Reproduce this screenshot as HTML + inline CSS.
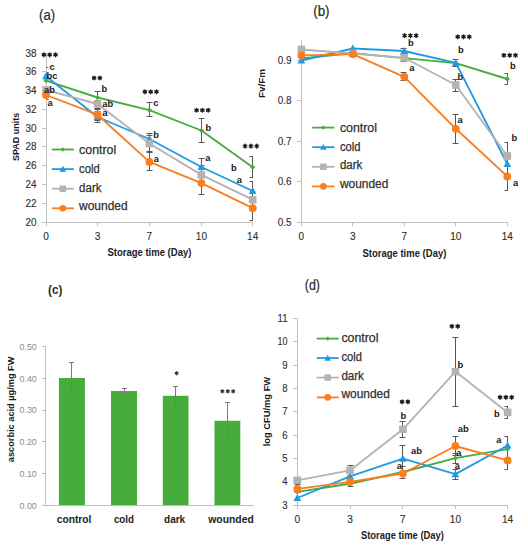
<!DOCTYPE html>
<html><head><meta charset="utf-8"><style>
html,body{margin:0;padding:0;background:#fff;}
svg{display:block;font-family:"Liberation Sans", sans-serif;}
</style></head><body>
<svg width="528" height="550" viewBox="0 0 528 550">
<rect width="528" height="550" fill="#fff"/>
<text x="39.1" y="19.6" font-size="14" text-anchor="start" font-weight="normal" fill="#2a2a2a" stroke="#2a2a2a" stroke-width="0.2" textLength="15.9" lengthAdjust="spacingAndGlyphs" >(a)</text>
<line x1="46.5" y1="53.0" x2="46.5" y2="223.0" stroke="#bfbfbf" stroke-width="1"/>
<line x1="42.0" y1="53.5" x2="46.5" y2="53.5" stroke="#bfbfbf" stroke-width="1"/>
<text x="36.5" y="56.5" font-size="10" text-anchor="end" font-weight="normal" fill="#303030" stroke="#303030" stroke-width="0.12" textLength="11" lengthAdjust="spacingAndGlyphs" >38</text>
<line x1="42.0" y1="71.5" x2="46.5" y2="71.5" stroke="#bfbfbf" stroke-width="1"/>
<text x="36.5" y="75.27777777777777" font-size="10" text-anchor="end" font-weight="normal" fill="#303030" stroke="#303030" stroke-width="0.12" textLength="11" lengthAdjust="spacingAndGlyphs" >36</text>
<line x1="42.0" y1="90.5" x2="46.5" y2="90.5" stroke="#bfbfbf" stroke-width="1"/>
<text x="36.5" y="94.05555555555556" font-size="10" text-anchor="end" font-weight="normal" fill="#303030" stroke="#303030" stroke-width="0.12" textLength="11" lengthAdjust="spacingAndGlyphs" >34</text>
<line x1="42.0" y1="109.5" x2="46.5" y2="109.5" stroke="#bfbfbf" stroke-width="1"/>
<text x="36.5" y="112.83333333333334" font-size="10" text-anchor="end" font-weight="normal" fill="#303030" stroke="#303030" stroke-width="0.12" textLength="11" lengthAdjust="spacingAndGlyphs" >32</text>
<line x1="42.0" y1="128.5" x2="46.5" y2="128.5" stroke="#bfbfbf" stroke-width="1"/>
<text x="36.5" y="131.61111111111111" font-size="10" text-anchor="end" font-weight="normal" fill="#303030" stroke="#303030" stroke-width="0.12" textLength="11" lengthAdjust="spacingAndGlyphs" >30</text>
<line x1="42.0" y1="146.5" x2="46.5" y2="146.5" stroke="#bfbfbf" stroke-width="1"/>
<text x="36.5" y="150.38888888888889" font-size="10" text-anchor="end" font-weight="normal" fill="#303030" stroke="#303030" stroke-width="0.12" textLength="11" lengthAdjust="spacingAndGlyphs" >28</text>
<line x1="42.0" y1="165.5" x2="46.5" y2="165.5" stroke="#bfbfbf" stroke-width="1"/>
<text x="36.5" y="169.16666666666669" font-size="10" text-anchor="end" font-weight="normal" fill="#303030" stroke="#303030" stroke-width="0.12" textLength="11" lengthAdjust="spacingAndGlyphs" >26</text>
<line x1="42.0" y1="184.5" x2="46.5" y2="184.5" stroke="#bfbfbf" stroke-width="1"/>
<text x="36.5" y="187.94444444444446" font-size="10" text-anchor="end" font-weight="normal" fill="#303030" stroke="#303030" stroke-width="0.12" textLength="11" lengthAdjust="spacingAndGlyphs" >24</text>
<line x1="42.0" y1="203.5" x2="46.5" y2="203.5" stroke="#bfbfbf" stroke-width="1"/>
<text x="36.5" y="206.72222222222223" font-size="10" text-anchor="end" font-weight="normal" fill="#303030" stroke="#303030" stroke-width="0.12" textLength="11" lengthAdjust="spacingAndGlyphs" >22</text>
<line x1="42.0" y1="222.5" x2="46.5" y2="222.5" stroke="#bfbfbf" stroke-width="1"/>
<text x="36.5" y="225.5" font-size="10" text-anchor="end" font-weight="normal" fill="#303030" stroke="#303030" stroke-width="0.12" textLength="11" lengthAdjust="spacingAndGlyphs" >20</text>
<line x1="46.0" y1="222.5" x2="253" y2="222.5" stroke="#bfbfbf" stroke-width="1"/>
<line x1="46.5" y1="222.5" x2="46.5" y2="226.0" stroke="#bfbfbf" stroke-width="1"/>
<text x="46" y="239.5" font-size="10" text-anchor="middle" font-weight="normal" fill="#303030" stroke="#303030" stroke-width="0.12" textLength="5.6" lengthAdjust="spacingAndGlyphs" >0</text>
<line x1="97.5" y1="222.5" x2="97.5" y2="226.0" stroke="#bfbfbf" stroke-width="1"/>
<text x="97.5" y="239.5" font-size="10" text-anchor="middle" font-weight="normal" fill="#303030" stroke="#303030" stroke-width="0.12" textLength="5.6" lengthAdjust="spacingAndGlyphs" >3</text>
<line x1="149.5" y1="222.5" x2="149.5" y2="226.0" stroke="#bfbfbf" stroke-width="1"/>
<text x="149.4" y="239.5" font-size="10" text-anchor="middle" font-weight="normal" fill="#303030" stroke="#303030" stroke-width="0.12" textLength="5.6" lengthAdjust="spacingAndGlyphs" >7</text>
<line x1="201.5" y1="222.5" x2="201.5" y2="226.0" stroke="#bfbfbf" stroke-width="1"/>
<text x="201.4" y="239.5" font-size="10" text-anchor="middle" font-weight="normal" fill="#303030" stroke="#303030" stroke-width="0.12" textLength="11.2" lengthAdjust="spacingAndGlyphs" >10</text>
<line x1="252.5" y1="222.5" x2="252.5" y2="226.0" stroke="#bfbfbf" stroke-width="1"/>
<text x="252.7" y="239.5" font-size="10" text-anchor="middle" font-weight="normal" fill="#303030" stroke="#303030" stroke-width="0.12" textLength="11.2" lengthAdjust="spacingAndGlyphs" >14</text>
<text x="149.4" y="256" font-size="10" text-anchor="middle" font-weight="bold" fill="#222" textLength="84" lengthAdjust="spacingAndGlyphs" >Storage time (Day)</text>
<text x="0" y="0" font-size="9.2" text-anchor="middle" font-weight="bold" fill="#1a1a1a" textLength="48" lengthAdjust="spacingAndGlyphs" transform="translate(18.6,136.9) rotate(-90)">SPAD units</text>
<line x1="46" y1="67.5" x2="48.5" y2="67.5" stroke="#777" stroke-width="1"/>
<line x1="46" y1="99.5" x2="48.5" y2="99.5" stroke="#777" stroke-width="1"/>
<line x1="97.5" y1="91.0" x2="97.5" y2="104.0" stroke="#585858" stroke-width="1"/>
<line x1="94.5" y1="91.5" x2="100.5" y2="91.5" stroke="#585858" stroke-width="1"/>
<line x1="94.5" y1="103.5" x2="100.5" y2="103.5" stroke="#585858" stroke-width="1"/>
<line x1="97.5" y1="100.0" x2="97.5" y2="109.0" stroke="#585858" stroke-width="1"/>
<line x1="94.5" y1="100.5" x2="100.5" y2="100.5" stroke="#585858" stroke-width="1"/>
<line x1="94.5" y1="108.5" x2="100.5" y2="108.5" stroke="#585858" stroke-width="1"/>
<line x1="97.5" y1="109.0" x2="97.5" y2="121.0" stroke="#585858" stroke-width="1"/>
<line x1="94.5" y1="109.5" x2="100.5" y2="109.5" stroke="#585858" stroke-width="1"/>
<line x1="94.5" y1="120.5" x2="100.5" y2="120.5" stroke="#585858" stroke-width="1"/>
<line x1="97.5" y1="111.0" x2="97.5" y2="123.0" stroke="#585858" stroke-width="1"/>
<line x1="94.5" y1="111.5" x2="100.5" y2="111.5" stroke="#585858" stroke-width="1"/>
<line x1="94.5" y1="122.5" x2="100.5" y2="122.5" stroke="#585858" stroke-width="1"/>
<line x1="149.5" y1="102.0" x2="149.5" y2="117.0" stroke="#585858" stroke-width="1"/>
<line x1="146.5" y1="102.5" x2="152.5" y2="102.5" stroke="#585858" stroke-width="1"/>
<line x1="146.5" y1="116.5" x2="152.5" y2="116.5" stroke="#585858" stroke-width="1"/>
<line x1="149.5" y1="133.0" x2="149.5" y2="146.0" stroke="#585858" stroke-width="1"/>
<line x1="146.5" y1="133.5" x2="152.5" y2="133.5" stroke="#585858" stroke-width="1"/>
<line x1="146.5" y1="145.5" x2="152.5" y2="145.5" stroke="#585858" stroke-width="1"/>
<line x1="149.5" y1="135.0" x2="149.5" y2="152.0" stroke="#585858" stroke-width="1"/>
<line x1="146.5" y1="135.5" x2="152.5" y2="135.5" stroke="#585858" stroke-width="1"/>
<line x1="146.5" y1="151.5" x2="152.5" y2="151.5" stroke="#585858" stroke-width="1"/>
<line x1="149.5" y1="152.0" x2="149.5" y2="171.0" stroke="#585858" stroke-width="1"/>
<line x1="146.5" y1="152.5" x2="152.5" y2="152.5" stroke="#585858" stroke-width="1"/>
<line x1="146.5" y1="170.5" x2="152.5" y2="170.5" stroke="#585858" stroke-width="1"/>
<line x1="201.5" y1="118.0" x2="201.5" y2="143.0" stroke="#585858" stroke-width="1"/>
<line x1="198.5" y1="118.5" x2="204.5" y2="118.5" stroke="#585858" stroke-width="1"/>
<line x1="198.5" y1="142.5" x2="204.5" y2="142.5" stroke="#585858" stroke-width="1"/>
<line x1="201.5" y1="158.0" x2="201.5" y2="176.0" stroke="#585858" stroke-width="1"/>
<line x1="198.5" y1="158.5" x2="204.5" y2="158.5" stroke="#585858" stroke-width="1"/>
<line x1="198.5" y1="175.5" x2="204.5" y2="175.5" stroke="#585858" stroke-width="1"/>
<line x1="201.5" y1="165.0" x2="201.5" y2="185.0" stroke="#585858" stroke-width="1"/>
<line x1="198.5" y1="165.5" x2="204.5" y2="165.5" stroke="#585858" stroke-width="1"/>
<line x1="198.5" y1="184.5" x2="204.5" y2="184.5" stroke="#585858" stroke-width="1"/>
<line x1="201.5" y1="172.0" x2="201.5" y2="195.0" stroke="#585858" stroke-width="1"/>
<line x1="198.5" y1="172.5" x2="204.5" y2="172.5" stroke="#585858" stroke-width="1"/>
<line x1="198.5" y1="194.5" x2="204.5" y2="194.5" stroke="#585858" stroke-width="1"/>
<line x1="252.5" y1="156.0" x2="252.5" y2="178.0" stroke="#585858" stroke-width="1"/>
<line x1="249.5" y1="156.5" x2="252.5" y2="156.5" stroke="#585858" stroke-width="1"/>
<line x1="249.5" y1="177.5" x2="252.5" y2="177.5" stroke="#585858" stroke-width="1"/>
<line x1="252.5" y1="181.0" x2="252.5" y2="201.0" stroke="#585858" stroke-width="1"/>
<line x1="249.5" y1="181.5" x2="252.5" y2="181.5" stroke="#585858" stroke-width="1"/>
<line x1="249.5" y1="200.5" x2="252.5" y2="200.5" stroke="#585858" stroke-width="1"/>
<line x1="252.5" y1="199.0" x2="252.5" y2="221.0" stroke="#585858" stroke-width="1"/>
<line x1="249.5" y1="199.5" x2="252.5" y2="199.5" stroke="#585858" stroke-width="1"/>
<line x1="249.5" y1="220.5" x2="252.5" y2="220.5" stroke="#585858" stroke-width="1"/>
<polyline points="46,80.6 97.5,97.5 149.4,110.1 201.4,130.5 252.7,167.2" fill="none" stroke="#47ac3c" stroke-width="1.85" stroke-linejoin="round"/>
<polygon points="46,78.0 48.6,80.6 46,83.19999999999999 43.4,80.6" fill="#47ac3c"/>
<polygon points="97.5,94.9 100.1,97.5 97.5,100.1 94.9,97.5" fill="#47ac3c"/>
<polygon points="149.4,107.5 152.0,110.1 149.4,112.69999999999999 146.8,110.1" fill="#47ac3c"/>
<polygon points="201.4,127.9 204.0,130.5 201.4,133.1 198.8,130.5" fill="#47ac3c"/>
<polygon points="252.7,164.6 255.29999999999998,167.2 252.7,169.79999999999998 250.1,167.2" fill="#47ac3c"/>
<polyline points="46,76.2 97.5,117 149.4,139 201.4,167 252.7,191" fill="none" stroke="#1f9be3" stroke-width="1.85" stroke-linejoin="round"/>
<polygon points="46,72.3 49.9,79.32000000000001 42.1,79.32000000000001" fill="#1f9be3"/>
<polygon points="97.5,113.1 101.4,120.12 93.6,120.12" fill="#1f9be3"/>
<polygon points="149.4,135.1 153.3,142.12 145.5,142.12" fill="#1f9be3"/>
<polygon points="201.4,163.1 205.3,170.12 197.5,170.12" fill="#1f9be3"/>
<polygon points="252.7,187.1 256.59999999999997,194.12 248.79999999999998,194.12" fill="#1f9be3"/>
<polyline points="46,90 97.5,104 149.4,143.5 201.4,174.9 252.7,199.7" fill="none" stroke="#b5b2b1" stroke-width="1.85" stroke-linejoin="round"/>
<rect x="42.2" y="86.2" width="7.6" height="7.6" fill="#b5b2b1"/>
<rect x="93.7" y="100.2" width="7.6" height="7.6" fill="#b5b2b1"/>
<rect x="145.6" y="139.7" width="7.6" height="7.6" fill="#b5b2b1"/>
<rect x="197.6" y="171.1" width="7.6" height="7.6" fill="#b5b2b1"/>
<rect x="248.89999999999998" y="195.89999999999998" width="7.6" height="7.6" fill="#b5b2b1"/>
<polyline points="46,95 97.5,114.7 149.4,161.9 201.4,183.1 252.7,208.2" fill="none" stroke="#fa7d1e" stroke-width="1.85" stroke-linejoin="round"/>
<circle cx="46" cy="95" r="3.9" fill="#fa7d1e"/>
<circle cx="97.5" cy="114.7" r="3.9" fill="#fa7d1e"/>
<circle cx="149.4" cy="161.9" r="3.9" fill="#fa7d1e"/>
<circle cx="201.4" cy="183.1" r="3.9" fill="#fa7d1e"/>
<circle cx="252.7" cy="208.2" r="3.9" fill="#fa7d1e"/>
<path d="M43.90,52.95L43.90,56.65M42.30,53.88L45.50,55.72M45.50,53.88L42.30,55.72M49.70,52.95L49.70,56.65M48.10,53.88L51.30,55.72M51.30,53.88L48.10,55.72M55.50,52.95L55.50,56.65M53.90,53.88L57.10,55.72M57.10,53.88L53.90,55.72" stroke="#1a1a1a" stroke-width="1.45" stroke-linecap="round" fill="none"/>
<path d="M94.10,76.15L94.10,79.85M92.50,77.08L95.70,78.92M95.70,77.08L92.50,78.92M99.90,76.15L99.90,79.85M98.30,77.08L101.50,78.92M101.50,77.08L98.30,78.92" stroke="#1a1a1a" stroke-width="1.45" stroke-linecap="round" fill="none"/>
<path d="M144.90,89.95L144.90,93.65M143.30,90.88L146.50,92.72M146.50,90.88L143.30,92.72M150.70,89.95L150.70,93.65M149.10,90.88L152.30,92.72M152.30,90.88L149.10,92.72M156.50,89.95L156.50,93.65M154.90,90.88L158.10,92.72M158.10,90.88L154.90,92.72" stroke="#1a1a1a" stroke-width="1.45" stroke-linecap="round" fill="none"/>
<path d="M196.60,108.35L196.60,112.05M195.00,109.28L198.20,111.12M198.20,109.28L195.00,111.12M202.40,108.35L202.40,112.05M200.80,109.28L204.00,111.12M204.00,109.28L200.80,111.12M208.20,108.35L208.20,112.05M206.60,109.28L209.80,111.12M209.80,109.28L206.60,111.12" stroke="#1a1a1a" stroke-width="1.45" stroke-linecap="round" fill="none"/>
<path d="M245.10,144.25L245.10,147.95M243.50,145.17L246.70,147.03M246.70,145.17L243.50,147.03M250.90,144.25L250.90,147.95M249.30,145.17L252.50,147.03M252.50,145.17L249.30,147.03M256.70,144.25L256.70,147.95M255.10,145.17L258.30,147.03M258.30,145.17L255.10,147.03" stroke="#1a1a1a" stroke-width="1.45" stroke-linecap="round" fill="none"/>
<text x="49.6" y="70.2" font-size="9" text-anchor="start" font-weight="bold" fill="#1a1a1a" textLength="5.21" lengthAdjust="spacingAndGlyphs" >c</text>
<text x="46.5" y="78.5" font-size="9" text-anchor="start" font-weight="bold" fill="#1a1a1a" textLength="10.92" lengthAdjust="spacingAndGlyphs" >bc</text>
<text x="44.0" y="92.9" font-size="9" text-anchor="start" font-weight="bold" fill="#1a1a1a" textLength="10.92" lengthAdjust="spacingAndGlyphs" >ab</text>
<text x="47.6" y="105.9" font-size="9" text-anchor="start" font-weight="bold" fill="#1a1a1a" textLength="5.21" lengthAdjust="spacingAndGlyphs" >a</text>
<text x="101.6" y="91.9" font-size="9" text-anchor="start" font-weight="bold" fill="#1a1a1a" textLength="5.72" lengthAdjust="spacingAndGlyphs" >b</text>
<text x="102.3" y="106.5" font-size="9" text-anchor="start" font-weight="bold" fill="#1a1a1a" textLength="10.92" lengthAdjust="spacingAndGlyphs" >ab</text>
<text x="102.3" y="115.9" font-size="9" text-anchor="start" font-weight="bold" fill="#1a1a1a" textLength="5.21" lengthAdjust="spacingAndGlyphs" >a</text>
<text x="153.29999999999998" y="105.7" font-size="9" text-anchor="start" font-weight="bold" fill="#1a1a1a" textLength="5.21" lengthAdjust="spacingAndGlyphs" >c</text>
<text x="153.29999999999998" y="138.3" font-size="9" text-anchor="start" font-weight="bold" fill="#1a1a1a" textLength="5.72" lengthAdjust="spacingAndGlyphs" >b</text>
<text x="153.7" y="161.5" font-size="9" text-anchor="start" font-weight="bold" fill="#1a1a1a" textLength="5.21" lengthAdjust="spacingAndGlyphs" >a</text>
<text x="205.6" y="130.9" font-size="9" text-anchor="start" font-weight="bold" fill="#1a1a1a" textLength="5.72" lengthAdjust="spacingAndGlyphs" >b</text>
<text x="205.2" y="161.4" font-size="9" text-anchor="start" font-weight="bold" fill="#1a1a1a" textLength="5.21" lengthAdjust="spacingAndGlyphs" >a</text>
<text x="231.1" y="170.6" font-size="9" text-anchor="start" font-weight="bold" fill="#1a1a1a" textLength="5.72" lengthAdjust="spacingAndGlyphs" >b</text>
<text x="236.79999999999998" y="183.4" font-size="9" text-anchor="start" font-weight="bold" fill="#1a1a1a" textLength="5.21" lengthAdjust="spacingAndGlyphs" >a</text>
<line x1="51.8" y1="149.5" x2="73.9" y2="149.5" stroke="#47ac3c" stroke-width="1.8"/>
<polygon points="62.85,147.29 65.06,149.5 62.85,151.71 60.64,149.5" fill="#47ac3c"/>
<text x="79.1" y="153.6" font-size="12" text-anchor="start" font-weight="normal" fill="#303030" stroke="#303030" stroke-width="0.25" textLength="37.1" lengthAdjust="spacingAndGlyphs" >control</text>
<line x1="51.8" y1="169.1" x2="73.9" y2="169.1" stroke="#1f9be3" stroke-width="1.8"/>
<polygon points="62.85,165.785 66.165,171.75199999999998 59.535000000000004,171.75199999999998" fill="#1f9be3"/>
<text x="79.1" y="172.8" font-size="12" text-anchor="start" font-weight="normal" fill="#303030" stroke="#303030" stroke-width="0.25" textLength="20.5" lengthAdjust="spacingAndGlyphs" >cold</text>
<line x1="51.8" y1="188.7" x2="73.9" y2="188.7" stroke="#b5b2b1" stroke-width="1.8"/>
<rect x="59.620000000000005" y="185.47" width="6.46" height="6.46" fill="#b5b2b1"/>
<text x="79.1" y="191.5" font-size="12" text-anchor="start" font-weight="normal" fill="#303030" stroke="#303030" stroke-width="0.25" textLength="22.5" lengthAdjust="spacingAndGlyphs" >dark</text>
<line x1="51.8" y1="208.3" x2="73.9" y2="208.3" stroke="#fa7d1e" stroke-width="1.8"/>
<circle cx="62.85" cy="208.3" r="3.315" fill="#fa7d1e"/>
<text x="79.1" y="210.3" font-size="12" text-anchor="start" font-weight="normal" fill="#303030" stroke="#303030" stroke-width="0.25" textLength="48.5" lengthAdjust="spacingAndGlyphs" >wounded</text>
<text x="313.2" y="16.4" font-size="14" text-anchor="start" font-weight="normal" fill="#2a2a2a" stroke="#2a2a2a" stroke-width="0.2" textLength="16.4" lengthAdjust="spacingAndGlyphs" >(b)</text>
<line x1="301.5" y1="40.0" x2="301.5" y2="223.0" stroke="#bfbfbf" stroke-width="1"/>
<line x1="297.0" y1="60.5" x2="301.5" y2="60.5" stroke="#bfbfbf" stroke-width="1"/>
<text x="291.5" y="64.0" font-size="10" text-anchor="end" font-weight="normal" fill="#303030" stroke="#303030" stroke-width="0.12" textLength="13.8" lengthAdjust="spacingAndGlyphs" >0.9</text>
<line x1="297.0" y1="100.5" x2="301.5" y2="100.5" stroke="#bfbfbf" stroke-width="1"/>
<text x="291.5" y="104.45" font-size="10" text-anchor="end" font-weight="normal" fill="#303030" stroke="#303030" stroke-width="0.12" textLength="13.8" lengthAdjust="spacingAndGlyphs" >0.8</text>
<line x1="297.0" y1="141.5" x2="301.5" y2="141.5" stroke="#bfbfbf" stroke-width="1"/>
<text x="291.5" y="144.9" font-size="10" text-anchor="end" font-weight="normal" fill="#303030" stroke="#303030" stroke-width="0.12" textLength="13.8" lengthAdjust="spacingAndGlyphs" >0.7</text>
<line x1="297.0" y1="181.5" x2="301.5" y2="181.5" stroke="#bfbfbf" stroke-width="1"/>
<text x="291.5" y="185.35000000000002" font-size="10" text-anchor="end" font-weight="normal" fill="#303030" stroke="#303030" stroke-width="0.12" textLength="13.8" lengthAdjust="spacingAndGlyphs" >0.6</text>
<line x1="297.0" y1="222.5" x2="301.5" y2="222.5" stroke="#bfbfbf" stroke-width="1"/>
<text x="291.5" y="225.8" font-size="10" text-anchor="end" font-weight="normal" fill="#303030" stroke="#303030" stroke-width="0.12" textLength="13.8" lengthAdjust="spacingAndGlyphs" >0.5</text>
<line x1="301.0" y1="222.5" x2="507.5" y2="222.5" stroke="#bfbfbf" stroke-width="1"/>
<line x1="301.5" y1="222.5" x2="301.5" y2="226.0" stroke="#bfbfbf" stroke-width="1"/>
<text x="301.4" y="240" font-size="10" text-anchor="middle" font-weight="normal" fill="#303030" stroke="#303030" stroke-width="0.12" textLength="5.6" lengthAdjust="spacingAndGlyphs" >0</text>
<line x1="352.5" y1="222.5" x2="352.5" y2="226.0" stroke="#bfbfbf" stroke-width="1"/>
<text x="352.8" y="240" font-size="10" text-anchor="middle" font-weight="normal" fill="#303030" stroke="#303030" stroke-width="0.12" textLength="5.6" lengthAdjust="spacingAndGlyphs" >3</text>
<line x1="404.5" y1="222.5" x2="404.5" y2="226.0" stroke="#bfbfbf" stroke-width="1"/>
<text x="404.3" y="240" font-size="10" text-anchor="middle" font-weight="normal" fill="#303030" stroke="#303030" stroke-width="0.12" textLength="5.6" lengthAdjust="spacingAndGlyphs" >7</text>
<line x1="455.5" y1="222.5" x2="455.5" y2="226.0" stroke="#bfbfbf" stroke-width="1"/>
<text x="455.8" y="240" font-size="10" text-anchor="middle" font-weight="normal" fill="#303030" stroke="#303030" stroke-width="0.12" textLength="11.2" lengthAdjust="spacingAndGlyphs" >10</text>
<line x1="507.5" y1="222.5" x2="507.5" y2="226.0" stroke="#bfbfbf" stroke-width="1"/>
<text x="507.3" y="240" font-size="10" text-anchor="middle" font-weight="normal" fill="#303030" stroke="#303030" stroke-width="0.12" textLength="11.2" lengthAdjust="spacingAndGlyphs" >14</text>
<text x="404.4" y="256.5" font-size="10" text-anchor="middle" font-weight="bold" fill="#222" textLength="84" lengthAdjust="spacingAndGlyphs" >Storage time (Day)</text>
<text x="0" y="0" font-size="9.2" text-anchor="middle" font-weight="bold" fill="#1a1a1a" textLength="29" lengthAdjust="spacingAndGlyphs" transform="translate(264.8,83.5) rotate(-90)">Fv/Fm</text>
<line x1="301.5" y1="47.0" x2="301.5" y2="53.0" stroke="#585858" stroke-width="1"/>
<line x1="298.5" y1="47.5" x2="304.5" y2="47.5" stroke="#585858" stroke-width="1"/>
<line x1="298.5" y1="52.5" x2="304.5" y2="52.5" stroke="#585858" stroke-width="1"/>
<line x1="352.5" y1="51.0" x2="352.5" y2="57.0" stroke="#585858" stroke-width="1"/>
<line x1="349.5" y1="51.5" x2="355.5" y2="51.5" stroke="#585858" stroke-width="1"/>
<line x1="349.5" y1="56.5" x2="355.5" y2="56.5" stroke="#585858" stroke-width="1"/>
<line x1="403.5" y1="48.0" x2="403.5" y2="55.0" stroke="#585858" stroke-width="1"/>
<line x1="400.5" y1="48.5" x2="406.5" y2="48.5" stroke="#585858" stroke-width="1"/>
<line x1="400.5" y1="54.5" x2="406.5" y2="54.5" stroke="#585858" stroke-width="1"/>
<line x1="403.5" y1="54.0" x2="403.5" y2="62.0" stroke="#585858" stroke-width="1"/>
<line x1="400.5" y1="54.5" x2="406.5" y2="54.5" stroke="#585858" stroke-width="1"/>
<line x1="400.5" y1="61.5" x2="406.5" y2="61.5" stroke="#585858" stroke-width="1"/>
<line x1="403.5" y1="72.0" x2="403.5" y2="81.0" stroke="#585858" stroke-width="1"/>
<line x1="400.5" y1="72.5" x2="406.5" y2="72.5" stroke="#585858" stroke-width="1"/>
<line x1="400.5" y1="80.5" x2="406.5" y2="80.5" stroke="#585858" stroke-width="1"/>
<line x1="455.5" y1="59.0" x2="455.5" y2="67.0" stroke="#585858" stroke-width="1"/>
<line x1="452.5" y1="59.5" x2="458.5" y2="59.5" stroke="#585858" stroke-width="1"/>
<line x1="452.5" y1="66.5" x2="458.5" y2="66.5" stroke="#585858" stroke-width="1"/>
<line x1="455.5" y1="79.0" x2="455.5" y2="92.0" stroke="#585858" stroke-width="1"/>
<line x1="452.5" y1="79.5" x2="458.5" y2="79.5" stroke="#585858" stroke-width="1"/>
<line x1="452.5" y1="91.5" x2="458.5" y2="91.5" stroke="#585858" stroke-width="1"/>
<line x1="455.5" y1="114.0" x2="455.5" y2="144.0" stroke="#585858" stroke-width="1"/>
<line x1="452.5" y1="114.5" x2="458.5" y2="114.5" stroke="#585858" stroke-width="1"/>
<line x1="452.5" y1="143.5" x2="458.5" y2="143.5" stroke="#585858" stroke-width="1"/>
<line x1="507.5" y1="73.0" x2="507.5" y2="85.0" stroke="#585858" stroke-width="1"/>
<line x1="504.5" y1="73.5" x2="507.5" y2="73.5" stroke="#585858" stroke-width="1"/>
<line x1="504.5" y1="84.5" x2="507.5" y2="84.5" stroke="#585858" stroke-width="1"/>
<line x1="507.5" y1="142.0" x2="507.5" y2="191.0" stroke="#585858" stroke-width="1"/>
<line x1="504.5" y1="142.5" x2="507.5" y2="142.5" stroke="#585858" stroke-width="1"/>
<line x1="504.5" y1="190.5" x2="507.5" y2="190.5" stroke="#585858" stroke-width="1"/>
<polyline points="301.4,58.5 352.8,53.2 404.3,58.1 455.8,63.1 507.3,79.0" fill="none" stroke="#47ac3c" stroke-width="1.85" stroke-linejoin="round"/>
<polygon points="301.4,55.9 304.0,58.5 301.4,61.1 298.79999999999995,58.5" fill="#47ac3c"/>
<polygon points="352.8,50.6 355.40000000000003,53.2 352.8,55.800000000000004 350.2,53.2" fill="#47ac3c"/>
<polygon points="404.3,55.5 406.90000000000003,58.1 404.3,60.7 401.7,58.1" fill="#47ac3c"/>
<polygon points="455.8,60.5 458.40000000000003,63.1 455.8,65.7 453.2,63.1" fill="#47ac3c"/>
<polygon points="507.3,76.4 509.90000000000003,79.0 507.3,81.6 504.7,79.0" fill="#47ac3c"/>
<polyline points="301.4,60.5 352.8,48.5 404.3,51 455.8,62.8 507.3,164" fill="none" stroke="#1f9be3" stroke-width="1.85" stroke-linejoin="round"/>
<polygon points="301.4,56.6 305.29999999999995,63.62 297.5,63.62" fill="#1f9be3"/>
<polygon points="352.8,44.6 356.7,51.62 348.90000000000003,51.62" fill="#1f9be3"/>
<polygon points="404.3,47.1 408.2,54.12 400.40000000000003,54.12" fill="#1f9be3"/>
<polygon points="455.8,58.9 459.7,65.92 451.90000000000003,65.92" fill="#1f9be3"/>
<polygon points="507.3,160.1 511.2,167.12 503.40000000000003,167.12" fill="#1f9be3"/>
<polyline points="301.4,49.5 352.8,53.5 404.3,57.8 455.8,85 507.3,156" fill="none" stroke="#b5b2b1" stroke-width="1.85" stroke-linejoin="round"/>
<rect x="297.59999999999997" y="45.7" width="7.6" height="7.6" fill="#b5b2b1"/>
<rect x="349.0" y="49.7" width="7.6" height="7.6" fill="#b5b2b1"/>
<rect x="400.5" y="54.0" width="7.6" height="7.6" fill="#b5b2b1"/>
<rect x="452.0" y="81.2" width="7.6" height="7.6" fill="#b5b2b1"/>
<rect x="503.5" y="152.2" width="7.6" height="7.6" fill="#b5b2b1"/>
<polyline points="301.4,55.4 352.8,54.1 404.3,76.8 455.8,128.8 507.3,176.4" fill="none" stroke="#fa7d1e" stroke-width="1.85" stroke-linejoin="round"/>
<circle cx="301.4" cy="55.4" r="3.9" fill="#fa7d1e"/>
<circle cx="352.8" cy="54.1" r="3.9" fill="#fa7d1e"/>
<circle cx="404.3" cy="76.8" r="3.9" fill="#fa7d1e"/>
<circle cx="455.8" cy="128.8" r="3.9" fill="#fa7d1e"/>
<circle cx="507.3" cy="176.4" r="3.9" fill="#fa7d1e"/>
<path d="M404.60,33.75L404.60,37.45M403.00,34.68L406.20,36.52M406.20,34.68L403.00,36.52M410.40,33.75L410.40,37.45M408.80,34.68L412.00,36.52M412.00,34.68L408.80,36.52M416.20,33.75L416.20,37.45M414.60,34.68L417.80,36.52M417.80,34.68L414.60,36.52" stroke="#1a1a1a" stroke-width="1.45" stroke-linecap="round" fill="none"/>
<path d="M457.70,34.95L457.70,38.65M456.10,35.88L459.30,37.72M459.30,35.88L456.10,37.72M463.50,34.95L463.50,38.65M461.90,35.88L465.10,37.72M465.10,35.88L461.90,37.72M469.30,34.95L469.30,38.65M467.70,35.88L470.90,37.72M470.90,35.88L467.70,37.72" stroke="#1a1a1a" stroke-width="1.45" stroke-linecap="round" fill="none"/>
<path d="M503.90,53.45L503.90,57.15M502.30,54.38L505.50,56.22M505.50,54.38L502.30,56.22M509.70,53.45L509.70,57.15M508.10,54.38L511.30,56.22M511.30,54.38L508.10,56.22M515.50,53.45L515.50,57.15M513.90,54.38L517.10,56.22M517.10,54.38L513.90,56.22" stroke="#1a1a1a" stroke-width="1.45" stroke-linecap="round" fill="none"/>
<text x="408.0" y="46.199999999999996" font-size="9" text-anchor="start" font-weight="bold" fill="#1a1a1a" textLength="5.72" lengthAdjust="spacingAndGlyphs" >b</text>
<text x="409.20000000000005" y="71.4" font-size="9" text-anchor="start" font-weight="bold" fill="#1a1a1a" textLength="5.21" lengthAdjust="spacingAndGlyphs" >a</text>
<text x="458.0" y="52.9" font-size="9" text-anchor="start" font-weight="bold" fill="#1a1a1a" textLength="5.72" lengthAdjust="spacingAndGlyphs" >b</text>
<text x="457.6" y="79.9" font-size="9" text-anchor="start" font-weight="bold" fill="#1a1a1a" textLength="5.72" lengthAdjust="spacingAndGlyphs" >b</text>
<text x="457.6" y="123.4" font-size="9" text-anchor="start" font-weight="bold" fill="#1a1a1a" textLength="5.21" lengthAdjust="spacingAndGlyphs" >a</text>
<text x="510.1" y="69.10000000000001" font-size="9" text-anchor="start" font-weight="bold" fill="#1a1a1a" textLength="5.72" lengthAdjust="spacingAndGlyphs" >b</text>
<text x="511.6" y="141.4" font-size="9" text-anchor="start" font-weight="bold" fill="#1a1a1a" textLength="5.72" lengthAdjust="spacingAndGlyphs" >b</text>
<text x="513.1" y="186.20000000000002" font-size="9" text-anchor="start" font-weight="bold" fill="#1a1a1a" textLength="5.21" lengthAdjust="spacingAndGlyphs" >a</text>
<line x1="312.2" y1="127.6" x2="334.5" y2="127.6" stroke="#47ac3c" stroke-width="1.8"/>
<polygon points="323.35,125.39 325.56,127.6 323.35,129.81 321.14000000000004,127.6" fill="#47ac3c"/>
<text x="339.9" y="131.6" font-size="12" text-anchor="start" font-weight="normal" fill="#303030" stroke="#303030" stroke-width="0.25" textLength="37.1" lengthAdjust="spacingAndGlyphs" >control</text>
<line x1="312.2" y1="147.2" x2="334.5" y2="147.2" stroke="#1f9be3" stroke-width="1.8"/>
<polygon points="323.35,143.885 326.665,149.85199999999998 320.035,149.85199999999998" fill="#1f9be3"/>
<text x="339.9" y="150.7" font-size="12" text-anchor="start" font-weight="normal" fill="#303030" stroke="#303030" stroke-width="0.25" textLength="20.5" lengthAdjust="spacingAndGlyphs" >cold</text>
<line x1="312.2" y1="166.8" x2="334.5" y2="166.8" stroke="#b5b2b1" stroke-width="1.8"/>
<rect x="320.12" y="163.57000000000002" width="6.46" height="6.46" fill="#b5b2b1"/>
<text x="339.9" y="169.4" font-size="12" text-anchor="start" font-weight="normal" fill="#303030" stroke="#303030" stroke-width="0.25" textLength="22.5" lengthAdjust="spacingAndGlyphs" >dark</text>
<line x1="312.2" y1="186.4" x2="334.5" y2="186.4" stroke="#fa7d1e" stroke-width="1.8"/>
<circle cx="323.35" cy="186.4" r="3.315" fill="#fa7d1e"/>
<text x="339.9" y="188.0" font-size="12" text-anchor="start" font-weight="normal" fill="#303030" stroke="#303030" stroke-width="0.25" textLength="48.5" lengthAdjust="spacingAndGlyphs" >wounded</text>
<text x="48" y="293.8" font-size="12" text-anchor="start" font-weight="bold" fill="#2a2a2a" textLength="14.3" lengthAdjust="spacingAndGlyphs" >(c)</text>
<line x1="45.5" y1="346.0" x2="45.5" y2="506.0" stroke="#bfbfbf" stroke-width="1"/>
<line x1="42.0" y1="346.5" x2="45.5" y2="346.5" stroke="#bfbfbf" stroke-width="1"/>
<text x="36.8" y="350.0" font-size="9.5" text-anchor="end" font-weight="normal" fill="#8c8c8c" textLength="17.3" lengthAdjust="spacingAndGlyphs" >0.50</text>
<line x1="42.0" y1="378.5" x2="45.5" y2="378.5" stroke="#bfbfbf" stroke-width="1"/>
<text x="36.8" y="381.7" font-size="9.5" text-anchor="end" font-weight="normal" fill="#8c8c8c" textLength="17.3" lengthAdjust="spacingAndGlyphs" >0.40</text>
<line x1="42.0" y1="410.5" x2="45.5" y2="410.5" stroke="#bfbfbf" stroke-width="1"/>
<text x="36.8" y="413.4" font-size="9.5" text-anchor="end" font-weight="normal" fill="#8c8c8c" textLength="17.3" lengthAdjust="spacingAndGlyphs" >0.30</text>
<line x1="42.0" y1="441.5" x2="45.5" y2="441.5" stroke="#bfbfbf" stroke-width="1"/>
<text x="36.8" y="445.09999999999997" font-size="9.5" text-anchor="end" font-weight="normal" fill="#8c8c8c" textLength="17.3" lengthAdjust="spacingAndGlyphs" >0.20</text>
<line x1="42.0" y1="473.5" x2="45.5" y2="473.5" stroke="#bfbfbf" stroke-width="1"/>
<text x="36.8" y="476.8" font-size="9.5" text-anchor="end" font-weight="normal" fill="#8c8c8c" textLength="17.3" lengthAdjust="spacingAndGlyphs" >0.10</text>
<line x1="42.0" y1="505.5" x2="45.5" y2="505.5" stroke="#bfbfbf" stroke-width="1"/>
<text x="36.8" y="508.5" font-size="9.5" text-anchor="end" font-weight="normal" fill="#8c8c8c" textLength="17.3" lengthAdjust="spacingAndGlyphs" >0.00</text>
<rect x="58.9" y="378.0" width="26.000000000000007" height="127.30000000000001" fill="#47ac3c"/>
<line x1="71.5" y1="362.0" x2="71.5" y2="394.0" stroke="#7a7a7a" stroke-width="1"/>
<line x1="69.0" y1="362.5" x2="74.0" y2="362.5" stroke="#7a7a7a" stroke-width="1"/>
<line x1="69.0" y1="393.5" x2="74.0" y2="393.5" stroke="#7a7a7a" stroke-width="1"/>
<rect x="111" y="391.0" width="26" height="114.30000000000001" fill="#47ac3c"/>
<line x1="124.5" y1="388.0" x2="124.5" y2="393.0" stroke="#7a7a7a" stroke-width="1"/>
<line x1="122.0" y1="388.5" x2="127.0" y2="388.5" stroke="#7a7a7a" stroke-width="1"/>
<line x1="122.0" y1="392.5" x2="127.0" y2="392.5" stroke="#7a7a7a" stroke-width="1"/>
<rect x="162.8" y="395.8" width="25.69999999999999" height="109.5" fill="#47ac3c"/>
<line x1="175.5" y1="386.0" x2="175.5" y2="406.0" stroke="#7a7a7a" stroke-width="1"/>
<line x1="173.0" y1="386.5" x2="178.0" y2="386.5" stroke="#7a7a7a" stroke-width="1"/>
<line x1="173.0" y1="405.5" x2="178.0" y2="405.5" stroke="#7a7a7a" stroke-width="1"/>
<rect x="214.5" y="420.8" width="25.80000000000001" height="84.5" fill="#47ac3c"/>
<line x1="227.5" y1="402.0" x2="227.5" y2="440.0" stroke="#7a7a7a" stroke-width="1"/>
<line x1="225.0" y1="402.5" x2="230.0" y2="402.5" stroke="#7a7a7a" stroke-width="1"/>
<line x1="225.0" y1="439.5" x2="230.0" y2="439.5" stroke="#7a7a7a" stroke-width="1"/>
<line x1="45.0" y1="505.5" x2="254" y2="505.5" stroke="#bfbfbf" stroke-width="1"/>
<text x="74.1" y="522.6" font-size="11.5" text-anchor="middle" font-weight="bold" fill="#1e1e1e" textLength="34.8" lengthAdjust="spacingAndGlyphs" >control</text>
<text x="124" y="522.6" font-size="11.5" text-anchor="middle" font-weight="bold" fill="#1e1e1e" textLength="20.2" lengthAdjust="spacingAndGlyphs" >cold</text>
<text x="174.6" y="522.6" font-size="11.5" text-anchor="middle" font-weight="bold" fill="#1e1e1e" textLength="21.2" lengthAdjust="spacingAndGlyphs" >dark</text>
<text x="231" y="522.6" font-size="11.5" text-anchor="middle" font-weight="bold" fill="#1e1e1e" textLength="45.5" lengthAdjust="spacingAndGlyphs" >wounded</text>
<path d="M176.60,371.60L176.60,374.80M175.21,372.40L177.99,374.00M177.99,372.40L175.21,374.00" stroke="#333" stroke-width="1.2" stroke-linecap="round" fill="none"/>
<path d="M222.40,389.70L222.40,392.90M221.01,390.50L223.79,392.10M223.79,390.50L221.01,392.10M227.80,389.70L227.80,392.90M226.41,390.50L229.19,392.10M229.19,390.50L226.41,392.10M233.20,389.70L233.20,392.90M231.81,390.50L234.59,392.10M234.59,390.50L231.81,392.10" stroke="#333" stroke-width="1.2" stroke-linecap="round" fill="none"/>
<text x="0" y="0" font-size="9.2" text-anchor="middle" font-weight="bold" fill="#1a1a1a" textLength="105.5" lengthAdjust="spacingAndGlyphs" transform="translate(13.9,409.4) rotate(-90)">ascorbic acid µg/mg FW</text>
<text x="304.8" y="289.8" font-size="14" text-anchor="start" font-weight="normal" fill="#2a2a2a" stroke="#2a2a2a" stroke-width="0.2" textLength="15.2" lengthAdjust="spacingAndGlyphs" >(d)</text>
<line x1="297.5" y1="318.0" x2="297.5" y2="506.0" stroke="#bfbfbf" stroke-width="1"/>
<line x1="293.0" y1="318.5" x2="297.5" y2="318.5" stroke="#bfbfbf" stroke-width="1"/>
<text x="287.5" y="322.0" font-size="10" text-anchor="end" font-weight="normal" fill="#303030" stroke="#303030" stroke-width="0.12" textLength="10" lengthAdjust="spacingAndGlyphs" >11</text>
<line x1="293.0" y1="341.5" x2="297.5" y2="341.5" stroke="#bfbfbf" stroke-width="1"/>
<text x="287.5" y="345.3125" font-size="10" text-anchor="end" font-weight="normal" fill="#303030" stroke="#303030" stroke-width="0.12" textLength="10" lengthAdjust="spacingAndGlyphs" >10</text>
<line x1="293.0" y1="365.5" x2="297.5" y2="365.5" stroke="#bfbfbf" stroke-width="1"/>
<text x="287.5" y="368.625" font-size="10" text-anchor="end" font-weight="normal" fill="#303030" stroke="#303030" stroke-width="0.12" textLength="5.3" lengthAdjust="spacingAndGlyphs" >9</text>
<line x1="293.0" y1="388.5" x2="297.5" y2="388.5" stroke="#bfbfbf" stroke-width="1"/>
<text x="287.5" y="391.9375" font-size="10" text-anchor="end" font-weight="normal" fill="#303030" stroke="#303030" stroke-width="0.12" textLength="5.3" lengthAdjust="spacingAndGlyphs" >8</text>
<line x1="293.0" y1="411.5" x2="297.5" y2="411.5" stroke="#bfbfbf" stroke-width="1"/>
<text x="287.5" y="415.25" font-size="10" text-anchor="end" font-weight="normal" fill="#303030" stroke="#303030" stroke-width="0.12" textLength="5.3" lengthAdjust="spacingAndGlyphs" >7</text>
<line x1="293.0" y1="435.5" x2="297.5" y2="435.5" stroke="#bfbfbf" stroke-width="1"/>
<text x="287.5" y="438.5625" font-size="10" text-anchor="end" font-weight="normal" fill="#303030" stroke="#303030" stroke-width="0.12" textLength="5.3" lengthAdjust="spacingAndGlyphs" >6</text>
<line x1="293.0" y1="458.5" x2="297.5" y2="458.5" stroke="#bfbfbf" stroke-width="1"/>
<text x="287.5" y="461.875" font-size="10" text-anchor="end" font-weight="normal" fill="#303030" stroke="#303030" stroke-width="0.12" textLength="5.3" lengthAdjust="spacingAndGlyphs" >5</text>
<line x1="293.0" y1="481.5" x2="297.5" y2="481.5" stroke="#bfbfbf" stroke-width="1"/>
<text x="287.5" y="485.1875" font-size="10" text-anchor="end" font-weight="normal" fill="#303030" stroke="#303030" stroke-width="0.12" textLength="5.3" lengthAdjust="spacingAndGlyphs" >4</text>
<line x1="293.0" y1="505.5" x2="297.5" y2="505.5" stroke="#bfbfbf" stroke-width="1"/>
<text x="287.5" y="508.5" font-size="10" text-anchor="end" font-weight="normal" fill="#303030" stroke="#303030" stroke-width="0.12" textLength="5.3" lengthAdjust="spacingAndGlyphs" >3</text>
<line x1="297.0" y1="505.5" x2="507.8" y2="505.5" stroke="#bfbfbf" stroke-width="1"/>
<line x1="297.5" y1="505.5" x2="297.5" y2="509.0" stroke="#bfbfbf" stroke-width="1"/>
<text x="297.3" y="523" font-size="10" text-anchor="middle" font-weight="normal" fill="#303030" stroke="#303030" stroke-width="0.12" textLength="5.6" lengthAdjust="spacingAndGlyphs" >0</text>
<line x1="350.5" y1="505.5" x2="350.5" y2="509.0" stroke="#bfbfbf" stroke-width="1"/>
<text x="350" y="523" font-size="10" text-anchor="middle" font-weight="normal" fill="#303030" stroke="#303030" stroke-width="0.12" textLength="5.6" lengthAdjust="spacingAndGlyphs" >3</text>
<line x1="402.5" y1="505.5" x2="402.5" y2="509.0" stroke="#bfbfbf" stroke-width="1"/>
<text x="402.9" y="523" font-size="10" text-anchor="middle" font-weight="normal" fill="#303030" stroke="#303030" stroke-width="0.12" textLength="5.6" lengthAdjust="spacingAndGlyphs" >7</text>
<line x1="455.5" y1="505.5" x2="455.5" y2="509.0" stroke="#bfbfbf" stroke-width="1"/>
<text x="455.4" y="523" font-size="10" text-anchor="middle" font-weight="normal" fill="#303030" stroke="#303030" stroke-width="0.12" textLength="11.2" lengthAdjust="spacingAndGlyphs" >10</text>
<line x1="507.5" y1="505.5" x2="507.5" y2="509.0" stroke="#bfbfbf" stroke-width="1"/>
<text x="507.6" y="523" font-size="10" text-anchor="middle" font-weight="normal" fill="#303030" stroke="#303030" stroke-width="0.12" textLength="11.2" lengthAdjust="spacingAndGlyphs" >14</text>
<text x="402.4" y="539" font-size="10" text-anchor="middle" font-weight="bold" fill="#222" textLength="83" lengthAdjust="spacingAndGlyphs" >Storage time (Day)</text>
<text x="0" y="0" font-size="9.4" text-anchor="middle" font-weight="bold" fill="#1a1a1a" textLength="69.5" lengthAdjust="spacingAndGlyphs" transform="translate(270.1,411.6) rotate(-90)">log CFU/mg FW</text>
<line x1="297.5" y1="477.0" x2="297.5" y2="485.0" stroke="#585858" stroke-width="1"/>
<line x1="294.5" y1="477.5" x2="300.5" y2="477.5" stroke="#585858" stroke-width="1"/>
<line x1="294.5" y1="484.5" x2="300.5" y2="484.5" stroke="#585858" stroke-width="1"/>
<line x1="297.5" y1="486.0" x2="297.5" y2="493.0" stroke="#585858" stroke-width="1"/>
<line x1="294.5" y1="486.5" x2="300.5" y2="486.5" stroke="#585858" stroke-width="1"/>
<line x1="294.5" y1="492.5" x2="300.5" y2="492.5" stroke="#585858" stroke-width="1"/>
<line x1="350.5" y1="465.0" x2="350.5" y2="476.0" stroke="#585858" stroke-width="1"/>
<line x1="347.5" y1="465.5" x2="353.5" y2="465.5" stroke="#585858" stroke-width="1"/>
<line x1="347.5" y1="475.5" x2="353.5" y2="475.5" stroke="#585858" stroke-width="1"/>
<line x1="350.5" y1="478.0" x2="350.5" y2="487.0" stroke="#585858" stroke-width="1"/>
<line x1="347.5" y1="478.5" x2="353.5" y2="478.5" stroke="#585858" stroke-width="1"/>
<line x1="347.5" y1="486.5" x2="353.5" y2="486.5" stroke="#585858" stroke-width="1"/>
<line x1="402.5" y1="421.0" x2="402.5" y2="438.0" stroke="#585858" stroke-width="1"/>
<line x1="399.5" y1="421.5" x2="405.5" y2="421.5" stroke="#585858" stroke-width="1"/>
<line x1="399.5" y1="437.5" x2="405.5" y2="437.5" stroke="#585858" stroke-width="1"/>
<line x1="402.5" y1="445.0" x2="402.5" y2="473.0" stroke="#585858" stroke-width="1"/>
<line x1="399.5" y1="445.5" x2="405.5" y2="445.5" stroke="#585858" stroke-width="1"/>
<line x1="399.5" y1="472.5" x2="405.5" y2="472.5" stroke="#585858" stroke-width="1"/>
<line x1="402.5" y1="466.0" x2="402.5" y2="479.0" stroke="#585858" stroke-width="1"/>
<line x1="399.5" y1="466.5" x2="405.5" y2="466.5" stroke="#585858" stroke-width="1"/>
<line x1="399.5" y1="478.5" x2="405.5" y2="478.5" stroke="#585858" stroke-width="1"/>
<line x1="455.5" y1="337.0" x2="455.5" y2="407.0" stroke="#585858" stroke-width="1"/>
<line x1="452.5" y1="337.5" x2="458.5" y2="337.5" stroke="#585858" stroke-width="1"/>
<line x1="452.5" y1="406.5" x2="458.5" y2="406.5" stroke="#585858" stroke-width="1"/>
<line x1="455.5" y1="436.0" x2="455.5" y2="456.0" stroke="#585858" stroke-width="1"/>
<line x1="452.5" y1="436.5" x2="458.5" y2="436.5" stroke="#585858" stroke-width="1"/>
<line x1="452.5" y1="455.5" x2="458.5" y2="455.5" stroke="#585858" stroke-width="1"/>
<line x1="455.5" y1="453.0" x2="455.5" y2="464.0" stroke="#585858" stroke-width="1"/>
<line x1="452.5" y1="453.5" x2="458.5" y2="453.5" stroke="#585858" stroke-width="1"/>
<line x1="452.5" y1="463.5" x2="458.5" y2="463.5" stroke="#585858" stroke-width="1"/>
<line x1="455.5" y1="469.0" x2="455.5" y2="480.0" stroke="#585858" stroke-width="1"/>
<line x1="452.5" y1="469.5" x2="458.5" y2="469.5" stroke="#585858" stroke-width="1"/>
<line x1="452.5" y1="479.5" x2="458.5" y2="479.5" stroke="#585858" stroke-width="1"/>
<line x1="507.5" y1="406.0" x2="507.5" y2="419.0" stroke="#585858" stroke-width="1"/>
<line x1="504.5" y1="406.5" x2="507.5" y2="406.5" stroke="#585858" stroke-width="1"/>
<line x1="504.5" y1="418.5" x2="507.5" y2="418.5" stroke="#585858" stroke-width="1"/>
<line x1="507.5" y1="436.0" x2="507.5" y2="470.0" stroke="#585858" stroke-width="1"/>
<line x1="504.5" y1="436.5" x2="507.5" y2="436.5" stroke="#585858" stroke-width="1"/>
<line x1="504.5" y1="469.5" x2="507.5" y2="469.5" stroke="#585858" stroke-width="1"/>
<polyline points="297.3,491.9 350,483.75 402.9,472 455.4,458.2 507.6,449.1" fill="none" stroke="#47ac3c" stroke-width="1.85" stroke-linejoin="round"/>
<polygon points="297.3,489.29999999999995 299.90000000000003,491.9 297.3,494.5 294.7,491.9" fill="#47ac3c"/>
<polygon points="350,481.15 352.6,483.75 350,486.35 347.4,483.75" fill="#47ac3c"/>
<polygon points="402.9,469.4 405.5,472 402.9,474.6 400.29999999999995,472" fill="#47ac3c"/>
<polygon points="455.4,455.59999999999997 458.0,458.2 455.4,460.8 452.79999999999995,458.2" fill="#47ac3c"/>
<polygon points="507.6,446.5 510.20000000000005,449.1 507.6,451.70000000000005 505.0,449.1" fill="#47ac3c"/>
<polyline points="297.3,498 350,476.4 402.9,458.7 455.4,474.1 507.6,445.5" fill="none" stroke="#1f9be3" stroke-width="1.85" stroke-linejoin="round"/>
<polygon points="297.3,494.1 301.2,501.12 293.40000000000003,501.12" fill="#1f9be3"/>
<polygon points="350,472.5 353.9,479.52 346.1,479.52" fill="#1f9be3"/>
<polygon points="402.9,454.8 406.79999999999995,461.82 399.0,461.82" fill="#1f9be3"/>
<polygon points="455.4,470.20000000000005 459.29999999999995,477.22 451.5,477.22" fill="#1f9be3"/>
<polygon points="507.6,441.6 511.5,448.62 503.70000000000005,448.62" fill="#1f9be3"/>
<polyline points="297.3,480.3 350,470.4 402.9,429.3 455.4,371.6 507.6,412.4" fill="none" stroke="#b5b2b1" stroke-width="1.85" stroke-linejoin="round"/>
<rect x="293.5" y="476.5" width="7.6" height="7.6" fill="#b5b2b1"/>
<rect x="346.2" y="466.59999999999997" width="7.6" height="7.6" fill="#b5b2b1"/>
<rect x="399.09999999999997" y="425.5" width="7.6" height="7.6" fill="#b5b2b1"/>
<rect x="451.59999999999997" y="367.8" width="7.6" height="7.6" fill="#b5b2b1"/>
<rect x="503.8" y="408.59999999999997" width="7.6" height="7.6" fill="#b5b2b1"/>
<polyline points="297.3,488.9 350,481.8 402.9,473.5 455.4,446 507.6,460.4" fill="none" stroke="#fa7d1e" stroke-width="1.85" stroke-linejoin="round"/>
<circle cx="297.3" cy="488.9" r="3.9" fill="#fa7d1e"/>
<circle cx="350" cy="481.8" r="3.9" fill="#fa7d1e"/>
<circle cx="402.9" cy="473.5" r="3.9" fill="#fa7d1e"/>
<circle cx="455.4" cy="446" r="3.9" fill="#fa7d1e"/>
<circle cx="507.6" cy="460.4" r="3.9" fill="#fa7d1e"/>
<path d="M402.10,399.95L402.10,403.65M400.50,400.88L403.70,402.73M403.70,400.88L400.50,402.73M407.90,399.95L407.90,403.65M406.30,400.88L409.50,402.73M409.50,400.88L406.30,402.73" stroke="#1a1a1a" stroke-width="1.45" stroke-linecap="round" fill="none"/>
<path d="M451.90,324.45L451.90,328.15M450.30,325.38L453.50,327.23M453.50,325.38L450.30,327.23M457.70,324.45L457.70,328.15M456.10,325.38L459.30,327.23M459.30,325.38L456.10,327.23" stroke="#1a1a1a" stroke-width="1.45" stroke-linecap="round" fill="none"/>
<path d="M500.10,395.45L500.10,399.15M498.50,396.38L501.70,398.23M501.70,396.38L498.50,398.23M505.90,395.45L505.90,399.15M504.30,396.38L507.50,398.23M507.50,396.38L504.30,398.23M511.70,395.45L511.70,399.15M510.10,396.38L513.30,398.23M513.30,396.38L510.10,398.23" stroke="#1a1a1a" stroke-width="1.45" stroke-linecap="round" fill="none"/>
<text x="400.6" y="419.09999999999997" font-size="9" text-anchor="start" font-weight="bold" fill="#1a1a1a" textLength="5.72" lengthAdjust="spacingAndGlyphs" >b</text>
<text x="411.0" y="454.29999999999995" font-size="9" text-anchor="start" font-weight="bold" fill="#1a1a1a" textLength="10.92" lengthAdjust="spacingAndGlyphs" >ab</text>
<text x="396.8" y="468.5" font-size="9" text-anchor="start" font-weight="bold" fill="#1a1a1a" textLength="5.21" lengthAdjust="spacingAndGlyphs" >a</text>
<text x="457.5" y="367.9" font-size="9" text-anchor="start" font-weight="bold" fill="#1a1a1a" textLength="5.72" lengthAdjust="spacingAndGlyphs" >b</text>
<text x="457.8" y="432.4" font-size="9" text-anchor="start" font-weight="bold" fill="#1a1a1a" textLength="10.92" lengthAdjust="spacingAndGlyphs" >ab</text>
<text x="456.3" y="456.2" font-size="9" text-anchor="start" font-weight="bold" fill="#1a1a1a" textLength="5.21" lengthAdjust="spacingAndGlyphs" >a</text>
<text x="454.8" y="468.9" font-size="9" text-anchor="start" font-weight="bold" fill="#1a1a1a" textLength="5.21" lengthAdjust="spacingAndGlyphs" >a</text>
<text x="494.1" y="417.09999999999997" font-size="9" text-anchor="start" font-weight="bold" fill="#1a1a1a" textLength="5.72" lengthAdjust="spacingAndGlyphs" >b</text>
<text x="496.3" y="442.5" font-size="9" text-anchor="start" font-weight="bold" fill="#1a1a1a" textLength="5.21" lengthAdjust="spacingAndGlyphs" >a</text>
<line x1="316.7" y1="338.6" x2="338.7" y2="338.6" stroke="#47ac3c" stroke-width="1.8"/>
<polygon points="327.7,336.39000000000004 329.90999999999997,338.6 327.7,340.81 325.49,338.6" fill="#47ac3c"/>
<text x="341.4" y="341.6" font-size="12" text-anchor="start" font-weight="normal" fill="#303030" stroke="#303030" stroke-width="0.25" textLength="37.1" lengthAdjust="spacingAndGlyphs" >control</text>
<line x1="316.7" y1="358.0" x2="338.7" y2="358.0" stroke="#1f9be3" stroke-width="1.8"/>
<polygon points="327.7,354.685 331.015,360.652 324.385,360.652" fill="#1f9be3"/>
<text x="341.4" y="360.7" font-size="12" text-anchor="start" font-weight="normal" fill="#303030" stroke="#303030" stroke-width="0.25" textLength="20.5" lengthAdjust="spacingAndGlyphs" >cold</text>
<line x1="316.7" y1="377.6" x2="338.7" y2="377.6" stroke="#b5b2b1" stroke-width="1.8"/>
<rect x="324.46999999999997" y="374.37" width="6.46" height="6.46" fill="#b5b2b1"/>
<text x="341.4" y="379.6" font-size="12" text-anchor="start" font-weight="normal" fill="#303030" stroke="#303030" stroke-width="0.25" textLength="22.5" lengthAdjust="spacingAndGlyphs" >dark</text>
<line x1="316.7" y1="397.4" x2="338.7" y2="397.4" stroke="#fa7d1e" stroke-width="1.8"/>
<circle cx="327.7" cy="397.4" r="3.315" fill="#fa7d1e"/>
<text x="341.4" y="398.3" font-size="12" text-anchor="start" font-weight="normal" fill="#303030" stroke="#303030" stroke-width="0.25" textLength="48.5" lengthAdjust="spacingAndGlyphs" >wounded</text>
</svg>
</body></html>
